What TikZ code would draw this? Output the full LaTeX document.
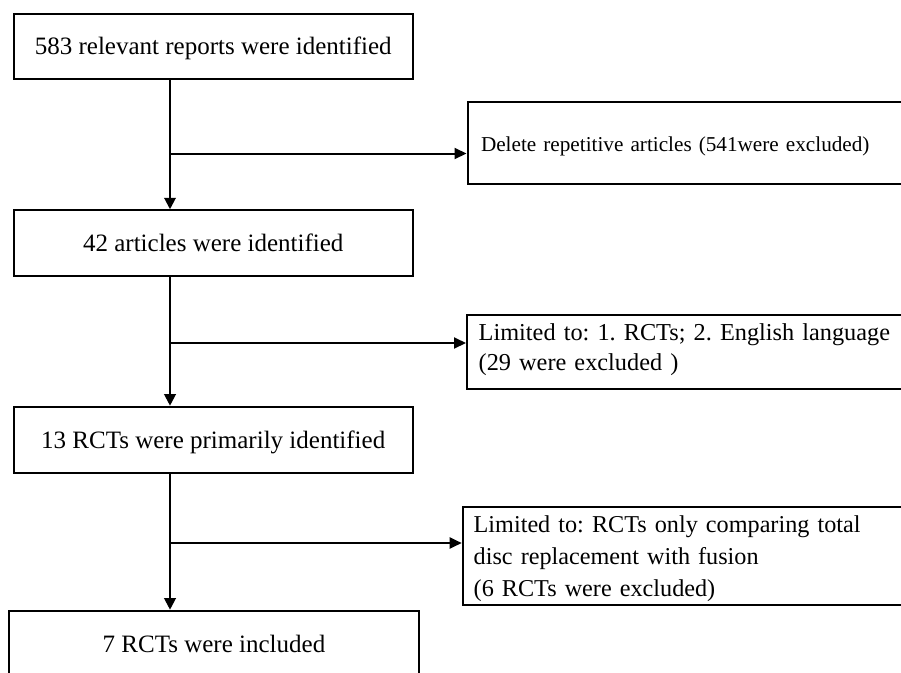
\documentclass[tikz,border=0pt]{standalone}
\usepackage{fontspec}
\setmainfont{Liberation Serif}
\usetikzlibrary{arrows.meta}
\begin{document}
\frenchspacing
\begin{tikzpicture}[x=1pt,y=-1pt,
  mainbox/.style={draw, line width=2pt, minimum width=399.5pt, minimum height=65.5pt,
    inner sep=0pt, text height=17pt, text depth=0pt, font=\fontsize{25}{30}\selectfont},
  exbox/.style={draw, line width=2pt, anchor=north west, inner ysep=0pt, align=left,
    text width=460pt},
  vflow/.style={line width=2pt, -{Triangle[width=11.5pt,length=11.5pt]}},
  hflow/.style={line width=2pt, -{Triangle[width=11pt,length=12pt]}}]
\useasboundingbox (0,0) rectangle (901,672);
\clip (0,0) rectangle (901,672);

% main flow boxes
\node[mainbox] (r) at (213.25,46.25) {583 relevant reports were identified};
\node[mainbox] (a) at (213.25,243) {42 articles were identified};
\node[mainbox, minimum height=66.3pt] (p) at (213.25,439.85) {13 RCTs were primarily identified};
\node[mainbox, minimum width=410.6pt, minimum height=66pt] (inc) at (214,643.7) {7 RCTs were included};

% exclusion boxes
\node[exbox, inner xsep=13.5pt, font=\fontsize{21.2}{26}\selectfont\frenchspacing] (e1) at (466.5,101)
  {\rule{0pt}{49pt}Delete repetitive articles (541were excluded)\rule[-33pt]{0pt}{33pt}};
\node[exbox, inner xsep=11.7pt, font=\fontsize{24.3}{30}\selectfont\frenchspacing] (e2) at (466,314)
  {\rule{0pt}{25pt}Limited to: 1. RCTs; 2. English language\\(29 were excluded )\rule[-18.7pt]{0pt}{18.7pt}};
\node[exbox, inner xsep=11pt, font=\fontsize{24.2}{31.65}\selectfont\frenchspacing] (e3) at (461.7,505.7)
  {\rule{0pt}{26pt}Limited to: RCTs only comparing total\\disc replacement with fusion\\(6 RCTs were excluded)\rule[-9pt]{0pt}{9pt}};

% spine and branch points
\coordinate (spine) at (170,0);
\coordinate (b1) at (170,153.5);
\coordinate (b2) at (170,343);
\coordinate (b3) at (170,543);

\draw[vflow] (r.south -| spine) -- (a.north -| spine);
\draw[vflow] (a.south -| spine) -- (p.north -| spine);
\draw[vflow] (p.south -| spine) -- (inc.north -| spine);

\draw[hflow] (b1) -- (b1 -| e1.west);
\draw[hflow] (b2) -- (b2 -| e2.west);
\draw[hflow] (b3) -- (b3 -| e3.west);
\end{tikzpicture}
\end{document}
